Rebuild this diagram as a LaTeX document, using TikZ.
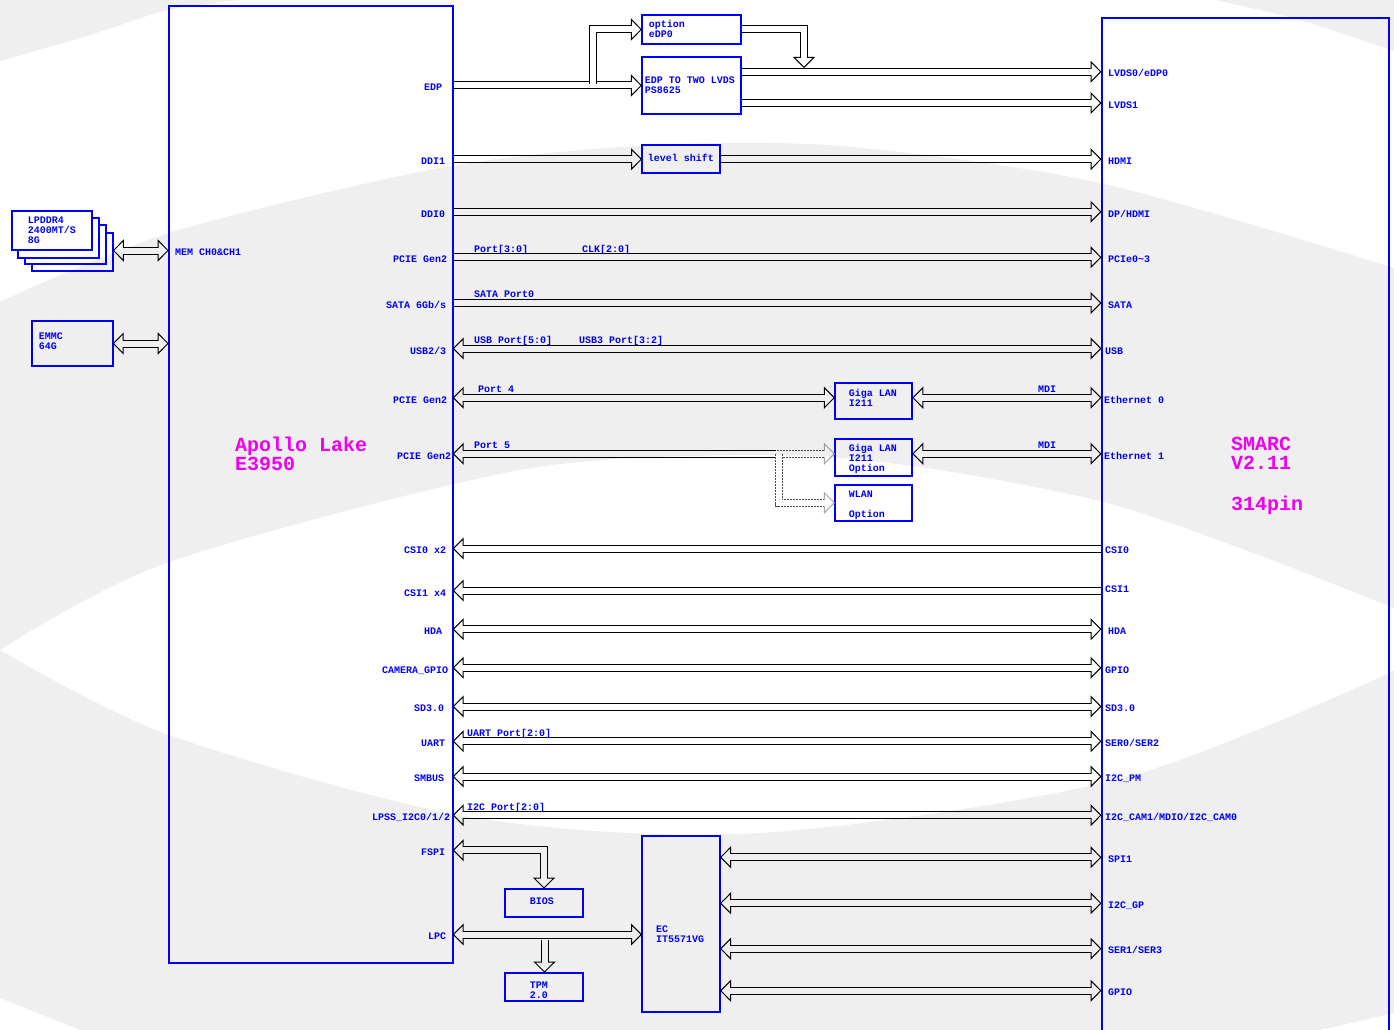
\documentclass[tikz,border=0pt]{standalone}
\usepackage{fontspec}
\setmonofont{Liberation Mono}
\usepackage{xcolor}
\usetikzlibrary{arrows.meta, calc}
\definecolor{wmgray}{HTML}{EFEFEF}
\definecolor{namemag}{RGB}{255,0,255}

\begin{document}
\begin{tikzpicture}[
  x=1pt, y=-1pt,
  >={Triangle[fill=white, length=11pt, width=22pt, line width=1pt]},
  box/.style={rectangle, draw=blue, line width=2pt, inner sep=0pt, outer sep=0pt, text=blue, align=flush left, font=\ttfamily\bfseries\fontsize{10pt}{10pt}\selectfont},
  sig/.style={anchor=west, inner sep=0pt, text=blue, text height=6.6pt, text depth=0pt, font=\ttfamily\bfseries\fontsize{10pt}{10pt}\selectfont},
  title/.style={anchor=north west, inner sep=0pt, text=namemag, align=left, font=\ttfamily\bfseries\fontsize{20pt}{19pt}\selectfont},
  bus/.style={draw=black, line width=8pt, ->, shorten <=1pt, postaction={draw=white, line width=6pt, -, shorten <=1pt, shorten >=5pt}},
  bibus/.style={draw=black, line width=8pt, <->, postaction={draw=white, line width=6pt, -, shorten <=5pt, shorten >=5pt}},
  optbus/.style={draw=black!70, line width=8pt, dash pattern=on 2pt off 1pt, ->, >={Triangle[fill=white, length=11pt, width=22pt, line width=1pt, color=black!35]}, postaction={draw=white, line width=6pt, solid, -, shorten >=5pt}},
  wmark/.style={fill=wmgray, draw=none, blend mode=multiply}
]
\useasboundingbox (0,0) rectangle (1394,1030);
\clip (0,0) rectangle (1394,1030);
\fill [white] (0,0) rectangle (1394,1030);

% main blocks
\node (soc) [box, minimum width=284pt, minimum height=957pt] at (310.7,484.5) {};
\node (smarc) [box, minimum width=287pt, minimum height=1030pt] at (1245,533) {};
\node (socname) [title] at (235,437) {Apollo Lake\\E3950};
\node (smarcname) [title] at (1231,437) {SMARC\\V2.11\\[22pt]314pin};

% memory
\node (mem3) [box, fill=white, minimum width=81pt, minimum height=38.6pt] at (72.3,252) {};
\node (mem2) [box, fill=white, minimum width=81pt, minimum height=39pt] at (65.3,244.8) {};
\node (mem1) [box, fill=white, minimum width=81pt, minimum height=39.7pt] at (58.5,237.8) {};
\node (mem0) [box, fill=white, minimum width=80.5pt, minimum height=38.5pt, text width=48pt] at (51.8,230.7) {LPDDR4\\2400MT/S\\8G};
\node (emmc) [box, minimum width=80.7pt, minimum height=45pt, text width=66.7pt, text depth=14pt] at (72.3,343.5) {EMMC\\64G};

% bridges
\node (option) [box, minimum width=98.7pt, minimum height=29pt, text width=84.7pt, text depth=12pt] at (691.3,29.5) {option\\eDP0};
\node (ps8625) [box, minimum width=98.7pt, minimum height=57pt, text width=92.7pt] at (691.3,85.5) {EDP TO TWO LVDS\\PS8625};
\node (lvlshift) [box, minimum width=78pt, minimum height=28pt, text width=66.5pt, text depth=3pt] at (681,159.2) {level shift};
\node (lan0) [box, minimum width=77.3pt, minimum height=35.4pt, text width=49.3pt, text height=10pt] at (873.6,401) {Giga LAN\\I211\\~};
\node (lan1) [box, minimum width=77.3pt, minimum height=36.4pt, text width=49.3pt, text height=11pt] at (873.6,457.5) {Giga LAN\\I211\\Option};
\node (wlan) [box, minimum width=77.3pt, minimum height=35.7pt, text width=49.3pt, text height=11pt] at (873.6,502.8) {WLAN\\~\\Option};
\node (bios) [box, minimum width=77.4pt, minimum height=28.3pt, text width=28.4pt, text depth=4pt] at (544,902.8) {BIOS};
\node (tpm) [box, minimum width=77.4pt, minimum height=28.3pt, text width=28.4pt, text height=13pt] at (544,986.8) {TPM\\2.0};
\node (ec) [box, minimum width=78pt, minimum height=175.7pt, text width=50pt, text height=27pt] at (681,923.8) {EC\\IT5571VG};

% buses
\coordinate (edpsplit) at (593,85.5);
\coordinate (p5split) at (777,453.8);
\coordinate (p5drop) at (779,453.8);
\coordinate (lpcdrop) at (544.5,938.5);
\draw [bibus] (mem3.east |- 0,250.5) -- (soc.west |- 0,250.5);
\draw [bibus] (emmc.east) -- (soc.west |- emmc);
\draw [bus] (soc.east |- ps8625) -- (ps8625.west);
\draw [bus] (edpsplit) |- (option.west);
\draw [bus] (ps8625.east |- 0,71.8) -- (smarc.west |- 0,71.8);
\draw [bus] (ps8625.east |- 0,103) -- (smarc.west |- 0,103);
\draw [bus] (option.east) -| (804,68);
\draw [bus] (soc.east |- lvlshift) -- (lvlshift.west);
\draw [bus] (lvlshift.east) -- (smarc.west |- lvlshift);
\draw [bus] (soc.east |- 0,211.8) -- (smarc.west |- 0,211.8);
\draw [bus] (soc.east |- 0,257.3) -- (smarc.west |- 0,257.3);
\draw [bus] (soc.east |- 0,303) -- (smarc.west |- 0,303);
\draw [bibus] (soc.east |- 0,348.5) -- (smarc.west |- 0,348.5);
\draw [bibus] (soc.east |- 0,397.7) -- (lan0.west |- 0,397.7);
\draw [bibus] (lan0.east |- 0,397.7) -- (smarc.west |- 0,397.7);
\draw [bus] (p5split) -- (soc.east |- p5split);
\draw [optbus] (p5split) -- (lan1.west |- p5split);
\draw [optbus] (p5drop) |- (wlan.west);
\draw [bibus] (lan1.east |- p5split) -- (smarc.west |- p5split);
\draw [bus] (smarc.west |- 0,548.5) -- (soc.east |- 0,548.5);
\draw [bus] (smarc.west |- 0,590.5) -- (soc.east |- 0,590.5);
\draw [bibus] (soc.east |- 0,629.2) -- (smarc.west |- 0,629.2);
\draw [bibus] (soc.east |- 0,667.8) -- (smarc.west |- 0,667.8);
\draw [bibus] (soc.east |- 0,706.5) -- (smarc.west |- 0,706.5);
\draw [bibus] (soc.east |- 0,741.3) -- (smarc.west |- 0,741.3);
\draw [bibus] (soc.east |- 0,776.5) -- (smarc.west |- 0,776.5);
\draw [bibus] (soc.east |- 0,815.2) -- (smarc.west |- 0,815.2);
\draw [bibus] (soc.east |- 0,850.2) -| (bios.north);
\draw [bibus] (soc.east |- 0,934.5) -- (ec.west |- 0,934.5);
\draw [bus] (lpcdrop) -- (tpm.north -| lpcdrop);
\draw [bibus] (ec.east |- 0,857.3) -- (smarc.west |- 0,857.3);
\draw [bibus] (ec.east |- 0,903.3) -- (smarc.west |- 0,903.3);
\draw [bibus] (ec.east |- 0,948.7) -- (smarc.west |- 0,948.7);
\draw [bibus] (ec.east |- 0,990.7) -- (smarc.west |- 0,990.7);

% soc pins
\node (memch) [sig] at (175,252) {MEM CH0\&CH1};
\node (edp) [sig] at (424,87) {EDP};
\node (ddi1) [sig] at (421,161) {DDI1};
\node (ddi0) [sig] at (421,214) {DDI0};
\node (pcie) [sig] at (393,259) {PCIE Gen2};
\node (sata) [sig] at (386,305) {SATA 6Gb/s};
\node (usb) [sig] at (410,351) {USB2/3};
\node (pcie4) [sig] at (393,400) {PCIE Gen2};
\node (pcie5) [sig] at (397,456) {PCIE Gen2};
\node (csi0) [sig] at (404,550) {CSI0 x2};
\node (csi1) [sig] at (404,593) {CSI1 x4};
\node (hda) [sig] at (424,631) {HDA};
\node (camgpio) [sig] at (382,670) {CAMERA\_GPIO};
\node (sd) [sig] at (414,708) {SD3.0};
\node (uart) [sig] at (421,743) {UART};
\node (smbus) [sig] at (414,778) {SMBUS};
\node (lpss) [sig] at (372,817) {LPSS\_I2C0/1/2};
\node (fspi) [sig] at (421,852) {FSPI};
\node (lpc) [sig] at (428,936) {LPC};

% smarc pins
\node (lvds0pin) [sig] at (1108,73) {LVDS0/eDP0};
\node (lvds1pin) [sig] at (1108,105) {LVDS1};
\node (hdmipin) [sig] at (1108,161) {HDMI};
\node (dppin) [sig] at (1108,214) {DP/HDMI};
\node (pciepin) [sig] at (1108,259) {PCIe0\textasciitilde3};
\node (satapin) [sig] at (1108,305) {SATA};
\node (usbpin) [sig] at (1105,351) {USB};
\node (eth0pin) [sig] at (1104,400) {Ethernet 0};
\node (eth1pin) [sig] at (1104,456) {Ethernet 1};
\node (csi0pin) [sig] at (1105,550) {CSI0};
\node (csi1pin) [sig] at (1105,589) {CSI1};
\node (hdapin) [sig] at (1108,631) {HDA};
\node (gpiopin) [sig] at (1105,670) {GPIO};
\node (sdpin) [sig] at (1105,708) {SD3.0};
\node (serpin) [sig] at (1105,743) {SER0/SER2};
\node (pmpin) [sig] at (1105,778) {I2C\_PM};
\node (campin) [sig] at (1105,817) {I2C\_CAM1/MDIO/I2C\_CAM0};
\node (spipin) [sig] at (1108,859) {SPI1};
\node (gppin) [sig] at (1108,905) {I2C\_GP};
\node (ser1pin) [sig] at (1108,950) {SER1/SER3};
\node (ecgpiopin) [sig] at (1108,992) {GPIO};

% bus labels
\node (portlbl) [sig] at (474,249) {Port[3:0]};
\node (clklbl) [sig] at (582,249) {CLK[2:0]};
\node (satalbl) [sig] at (474,294) {SATA Port0};
\node (usblbl) [sig] at (474,340) {USB Port[5:0]};
\node (usb3lbl) [sig] at (579,340) {USB3 Port[3:2]};
\node (p4lbl) [sig] at (478,389) {Port 4};
\node (p5lbl) [sig] at (474,445) {Port 5};
\node (mdi0lbl) [sig] at (1038,389) {MDI};
\node (mdi1lbl) [sig] at (1038,445) {MDI};
\node (uartlbl) [sig] at (467,733) {UART Port[2:0]};
\node (i2clbl) [sig] at (467,807) {I2C Port[2:0]};

% watermark, multiplied over the drawing so that it shows through every box and bus
\fill [wmark] (0,0) -- plot [smooth] coordinates {(0,61) (90,35) (168,10) (240,0)} -- cycle;
\fill [wmark] plot [smooth] coordinates {(1215,0) (1300,20) (1394,51)} -- (1394,0) -- cycle;
\fill [wmark] plot [smooth] coordinates {(0,302) (169,233) (440,168) (640,146) (840,146) (1100,183) (1394,268)}
  -- plot [smooth] coordinates {(1394,608) (1240,548) (1100,501) (913,466) (760,455) (520,470) (169,562) (0,650)} -- cycle;
\fill [wmark] plot [smooth] coordinates {(0,650) (169,735) (470,817) (760,833) (1120,779) (1394,671)}
  -- (1394,1013) -- (1320,1030) -- (80,1030) -- (0,998) -- cycle;
\end{tikzpicture}
\end{document}
